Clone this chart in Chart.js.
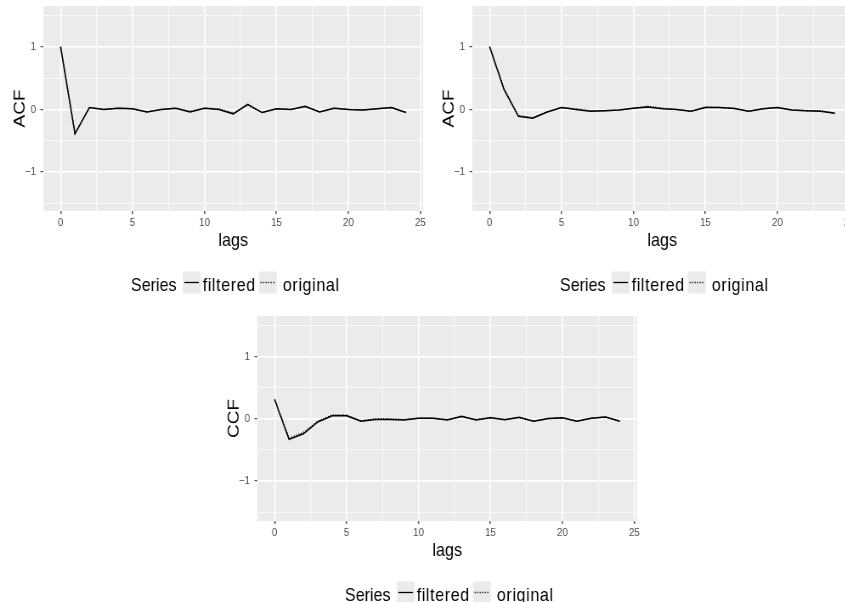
<!DOCTYPE html>
<html>
<head>
<meta charset="utf-8">
<script src="https://cdn.jsdelivr.net/npm/chart.js@4.4.1/dist/chart.umd.min.js"></script>
<style>
  html, body { margin: 0; padding: 0; background: #fff; overflow: hidden; width: 845px; height: 602px; }
  canvas { position: absolute; }
</style>
</head>
<body>
<!-- the original figure is squeezed horizontally; canvases are drawn wide and shown at 0.85 width -->
<canvas id="acf1" width="506" height="300" style="left:0px;top:0px;width:430px;height:300px"></canvas>
<canvas id="acf2" width="506" height="300" style="left:429px;top:0px;width:430px;height:300px"></canvas>
<canvas id="ccf" width="506" height="300" style="left:214px;top:310px;width:430px;height:300px"></canvas>
<script>
// values
var lags = [0,1,2,3,4,5,6,7,8,9,10,11,12,13,14,15,16,17,18,19,20,21,22,23,24];

var acf1Filtered = [1, -0.39, 0.03, 0.0, 0.02, 0.01, -0.04, 0.0, 0.02, -0.04, 0.02, 0.0, -0.07, 0.08, -0.05, 0.01, 0.0, 0.05, -0.04, 0.02, 0.0, -0.01, 0.01, 0.03, -0.05];
var acf1Original = [1, -0.38, 0.03, 0.0, 0.02, 0.01, -0.04, 0.0, 0.02, -0.03, 0.02, 0.01, -0.06, 0.07, -0.05, 0.01, 0.0, 0.04, -0.04, 0.02, 0.0, -0.01, 0.01, 0.03, -0.05];

var acf2Filtered = [1, 0.32, -0.11, -0.14, -0.04, 0.03, 0.0, -0.03, -0.02, -0.01, 0.02, 0.04, 0.01, 0.0, -0.03, 0.03, 0.03, 0.015, -0.03, 0.01, 0.03, -0.01, -0.02, -0.03, -0.06];
var acf2Original = [1, 0.33, -0.10, -0.13, -0.04, 0.03, 0.01, -0.02, -0.02, -0.01, 0.02, 0.05, 0.02, 0.0, -0.03, 0.04, 0.03, 0.02, -0.03, 0.01, 0.03, -0.01, -0.02, -0.02, -0.06];

var ccfFiltered = [0.31, -0.33, -0.24, -0.05, 0.05, 0.05, -0.04, -0.01, -0.01, -0.02, 0.01, 0.01, -0.02, 0.04, -0.02, 0.015, -0.015, 0.025, -0.04, 0.005, 0.015, -0.04, 0.01, 0.03, -0.04];
var ccfOriginal = [0.31, -0.31, -0.22, -0.04, 0.06, 0.06, -0.03, 0.0, 0.0, -0.01, 0.01, 0.01, -0.01, 0.03, -0.01, 0.02, -0.01, 0.02, -0.04, 0.0, 0.02, -0.04, 0.01, 0.03, -0.04];

var seriesNames = ['filtered', 'original'];
var xTicks = [0, 2.5, 5, 7.5, 10, 12.5, 15, 17.5, 20, 22.5, 25];
var xTickLabels = [0, 5, 10, 15, 20, 25];
var yTicks = [-1.5, -1, -0.5, 0, 0.5, 1, 1.5];
var yTickLabels = [-1, 0, 1];

var FONT = "'Liberation Sans', Arial, sans-serif";
var SX = 0.85; // horizontal squeeze of the shown canvas

function pts(vals) {
  return lags.map(function (l, i) { return {x: l, y: vals[i]}; });
}

// grey panel behind the grid
var panelBg = {
  id: 'panelBg',
  beforeDraw: function (chart) {
    var a = chart.chartArea, ctx = chart.ctx;
    ctx.save();
    ctx.fillStyle = '#EBEBEB';
    ctx.fillRect(a.left, a.top, a.right - a.left, a.bottom - a.top);
    ctx.restore();
  }
};

// ggplot-like legend: "Series [key] filtered [key] original"
var ggLegend = {
  id: 'ggLegend',
  afterDraw: function (chart) {
    var a = chart.chartArea, ctx = chart.ctx;
    ctx.save();
    ctx.font = '19px ' + FONT;
    ctx.textBaseline = 'alphabetic';
    ctx.fillStyle = '#000';
    var wT = ctx.measureText('Series').width;
    ctx.letterSpacing = '0.7px';
    var w1 = ctx.measureText(seriesNames[0]).width;
    var w2 = ctx.measureText(seriesNames[1]).width;
    var keyW = 18 / SX, keyH = 22;
    var g1 = 6 / SX, g2 = 2 / SX, g3 = 3 / SX, g4 = 6 / SX;
    var total = wT + g1 + keyW + g2 + w1 + g3 + keyW + g4 + w2;
    var x = (a.left + a.right) / 2 - total / 2 + 2 / SX;
    var base = a.bottom + 80;
    var keyTop = a.bottom + 60.5;
    ctx.letterSpacing = '0px';
    ctx.fillText('Series', x, base);
    x += wT + g1;
    for (var i = 0; i < 2; i++) {
      ctx.fillStyle = '#EBEBEB';
      ctx.fillRect(x, keyTop, keyW, keyH);
      ctx.strokeStyle = '#000';
      ctx.lineWidth = 1.3;
      ctx.setLineDash(i === 0 ? [] : [1.2, 1.8]);
      ctx.beginPath();
      ctx.moveTo(x + 2, keyTop + keyH / 2);
      ctx.lineTo(x + keyW - 2, keyTop + keyH / 2);
      ctx.stroke();
      ctx.setLineDash([]);
      x += keyW + (i === 0 ? g2 : g4);
      ctx.fillStyle = '#000';
      ctx.letterSpacing = '0.7px';
      ctx.fillText(seriesNames[i], x, base);
      ctx.letterSpacing = '0px';
      x += (i === 0 ? w1 : w2) + g3;
    }
    ctx.restore();
  }
};

function isMajorX(v) { return xTickLabels.indexOf(v) >= 0; }
function isMajorY(v) { return yTickLabels.indexOf(v) >= 0; }

function makeChart(id, yTitle, filtered, original, yMin) {
  return new Chart(document.getElementById(id), {
    type: 'line',
    data: {
      datasets: [
        {label: seriesNames[0], data: pts(filtered), borderColor: '#000', borderWidth: 1.5, pointRadius: 0, tension: 0, fill: false},
        {label: seriesNames[1], data: pts(original), borderColor: '#000', borderWidth: 1.4, borderDash: [1.2, 1.8], pointRadius: 0, tension: 0, fill: false}
      ]
    },
    options: {
      responsive: false,
      animation: false,
      layout: {padding: {left: 0, top: 6, right: 8, bottom: 44}},
      plugins: {legend: {display: false}, tooltip: {enabled: false}},
      scales: {
        x: {
          type: 'linear',
          min: -1.2, max: 25.2,
          afterBuildTicks: function (s) { s.ticks = xTicks.map(function (v) { return {value: v}; }); },
          afterFit: function (s) { s.height = 45; s.paddingLeft = 0; s.paddingRight = 0; },
          border: {display: false},
          grid: {
            color: '#FFFFFF',
            lineWidth: function (c) { return isMajorX(c.tick.value) ? 1.6 : 0.8; },
            tickColor: function (c) { return isMajorX(c.tick.value) ? '#333333' : 'rgba(0,0,0,0)'; },
            tickLength: 3,
            tickWidth: 1.2
          },
          ticks: {
            autoSkip: false, maxRotation: 0, padding: 2,
            color: '#4D4D4D',
            font: {family: FONT, size: 11.5},
            callback: function (v) { return isMajorX(v) ? String(v) : ''; }
          },
          title: {display: true, text: 'lags', color: '#000', font: {family: FONT, size: 19}, padding: {top: 0, bottom: 4}}
        },
        y: {
          type: 'linear',
          min: yMin, max: 1.65,
          afterBuildTicks: function (s) { s.ticks = yTicks.map(function (v) { return {value: v}; }); },
          afterFit: function (s) { s.width = 51; s.paddingTop = 0; s.paddingBottom = 0; },
          border: {display: false},
          grid: {
            color: '#FFFFFF',
            lineWidth: function (c) { return isMajorY(c.tick.value) ? 1.4 : 0.7; },
            tickColor: function (c) { return isMajorY(c.tick.value) ? '#333333' : 'rgba(0,0,0,0)'; },
            tickLength: 3.5,
            tickWidth: 1
          },
          ticks: {
            autoSkip: false, padding: 5,
            color: '#4D4D4D',
            font: {family: FONT, size: 11.5},
            callback: function (v) { return isMajorY(v) ? String(v).replace('-', '\u2212') : ''; }
          },
          title: {display: true, text: yTitle, color: '#000', font: {family: FONT, size: 19}, padding: {top: 12, bottom: 0}}
        }
      }
    },
    plugins: [panelBg, ggLegend]
  });
}

makeChart('acf1', 'ACF', acf1Filtered, acf1Original, -1.62);
makeChart('acf2', 'ACF', acf2Filtered, acf2Original, -1.62);
makeChart('ccf', 'CCF', ccfFiltered, ccfOriginal, -1.64);
</script>
</body>
</html>
